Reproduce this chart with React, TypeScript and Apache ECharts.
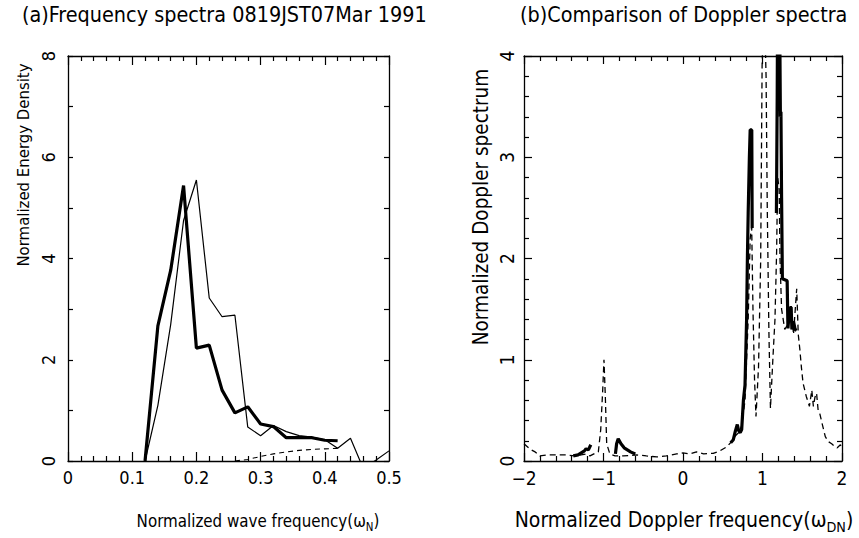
import React, { useEffect, useRef } from "react";
import * as echarts from "echarts";

// ---------- Panel (a): frequency spectra ----------
const waveTickLabels = ["0", "0.1", "0.2", "0.3", "0.4", "0.5"];
const thickFreq = [0.12, 0.14, 0.16, 0.18, 0.2, 0.22, 0.24, 0.26, 0.28, 0.3, 0.32, 0.34, 0.36, 0.38, 0.4, 0.42];
const thickEnergy = [0, 2.67, 3.77, 5.44, 2.23, 2.29, 1.4, 0.95, 1.07, 0.73, 0.68, 0.46, 0.46, 0.46, 0.41, 0.4];
const thinFreq = [0.12, 0.14, 0.16, 0.18, 0.2, 0.22, 0.24, 0.26, 0.28, 0.3, 0.32, 0.34, 0.36, 0.38, 0.4, 0.42, 0.44, 0.46, 0.48, 0.5];
const thinEnergy = [0, 1.1, 2.7, 4.75, 5.55, 3.22, 2.85, 2.88, 0.67, 0.5, 0.7, 0.58, 0.5, 0.47, 0.42, 0.25, 0.45, -0.15, 0.02, 0.2];
const dashFreq = [0.26, 0.28, 0.3, 0.32, 0.34, 0.36, 0.38, 0.4, 0.42];
const dashEnergy = [0, 0.03, 0.09, 0.14, 0.18, 0.21, 0.23, 0.24, 0.25];

// ---------- Panel (b): Doppler spectra ----------
const dopplerTickLabels = ["\u22122", "\u22121", "0", "1", "2"];
const dopplerTickValues = [-2, -1, 0, 1, 2];
const solidDopFreq = [
  -1.38, -1.32, -1.28, -1.24, -1.22, -1.19, -1.16, null,
  -0.85, -0.835, -0.815, -0.78, -0.74, -0.7, -0.66, -0.6, null,
  0.6, 0.633, 0.66, 0.683, 0.7, 0.72, 0.738, 0.76, 0.78, 0.8, 0.81, 0.82, 0.835, 0.845, 0.865, 0.87, null,
  1.175, 1.185, 1.19, 1.215, 1.225, 1.232, 1.24, 1.25, 1.31, 1.32, 1.34, 1.36, 1.37, 1.39, 1.41, 1.43,
];
const solidDopValue = [
  0.05, 0.06, 0.08, 0.1, 0.12, 0.11, 0.16, null,
  0.07, 0.17, 0.22, 0.17, 0.13, 0.11, 0.09, 0.07, null,
  0.18, 0.21, 0.3, 0.36, 0.3, 0.28, 0.31, 0.6, 0.75, 1.4, 2.0, 2.45, 3.0, 3.27, 3.27, 2.3, null,
  2.45, 3.6, 4.5, 4.5, 3.4, 3.45, 2.6, 1.8, 1.78, 1.31, 1.5, 1.52, 1.3, 1.38, 1.3, 1.29,
];
const dashDopFreq = [
  -2.0, -1.92, -1.86, -1.8, -1.71, -1.59, -1.46, -1.36, -1.28, -1.22, -1.17, -1.11, -1.065, -1.035, -1.01, -0.994,
  -0.977, -0.96, -0.92, -0.855, -0.75, -0.58, -0.46, -0.33, -0.21, -0.08, 0.0, 0.09, 0.17, 0.26, 0.38, 0.465,
  0.55, 0.61, 0.66, 0.7, 0.74, 0.78, 0.82, 0.845, 0.864, 0.88, 0.9, 0.918, 0.95, 0.977, 0.995, 1.02,
  1.045, 1.06, 1.08, 1.1, 1.13, 1.157, 1.178, 1.19, 1.21, 1.22, 1.24, 1.28, 1.32, 1.36, 1.39, 1.43,
  1.45, 1.47, 1.49, 1.51, 1.55, 1.59, 1.62, 1.64, 1.66, 1.68, 1.7, 1.72, 1.75, 1.79, 1.83, 1.87, 1.9, 1.94, 1.98, 2.0,
];
const dashDopValue = [
  0.17, 0.115, 0.09, 0.05, 0.06, 0.06, 0.06, 0.05, 0.06, 0.07, 0.05, 0.075, 0.09, 0.31, 0.7, 1.0,
  0.635, 0.17, 0.07, 0.05, 0.05, 0.06, 0.05, 0.04, 0.05, 0.07, 0.08, 0.07, 0.09, 0.07, 0.076, 0.1,
  0.14, 0.19, 0.25, 0.28, 0.35, 0.6, 1.4, 2.2, 2.31, 1.5, 0.8, 0.44, 0.93, 1.98, 3.9, 4.6,
  3.8, 2.5, 1.3, 0.52, 1.0, 1.4, 2.08, 2.81, 2.68, 2.0, 1.5, 1.3, 1.35, 1.55, 1.25, 1.7,
  1.25, 1.1, 0.92, 0.77, 0.64, 0.54, 0.7, 0.54, 0.63, 0.67, 0.5, 0.47, 0.37, 0.24, 0.19, 0.17, 0.15, 0.13, 0.16, 0.12,
];

const pairs = (xs: (number | null)[], ys: (number | null)[]) =>
  xs.map((x, i) => (x === null || ys[i] === null ? [null, null] : [x, ys[i]]));

const FONT = "'Liberation Sans Narrow', 'DejaVu Sans Condensed', 'Noto Sans', sans-serif";
const BLACK = "#000";

function axisPair(gridIndex: number, opts: any) {
  const common = {
    gridIndex,
    type: "value",
    min: opts.min,
    max: opts.max,
    interval: opts.interval,
    splitLine: { show: false },
    axisLine: { show: true, onZero: false, lineStyle: { color: BLACK, width: 1.3 } },
    axisTick: { show: true, inside: true, length: opts.majorLen, lineStyle: { color: BLACK, width: 1.2 } },
    minorTick: { show: true, splitNumber: opts.minorSplit, length: opts.minorLen, lineStyle: { color: BLACK, width: 1.2 } },
  };
  return [
    {
      ...common,
      position: opts.pos1,
      axisLabel: {
        show: true,
        color: BLACK,
        fontFamily: FONT,
        fontSize: opts.fontSize,
        margin: opts.margin,
        rotate: opts.rotate || 0,
        formatter: opts.formatter,
      },
    },
    { ...common, position: opts.pos2, axisLabel: { show: false } },
  ];
}

export default function App() {
  const ref = useRef<HTMLDivElement>(null);
  useEffect(() => {
    if (!ref.current) return;
    const chart = echarts.init(ref.current, null, { renderer: "svg" });
    const xAxes = [
      ...axisPair(0, {
        min: 0, max: 0.5, interval: 0.1, majorLen: 9, minorLen: 5, minorSplit: 5, margin: 7, fontSize: 18,
        pos1: "bottom", pos2: "top",
        formatter: (v: number) => waveTickLabels[Math.round(v * 10)] ?? "",
      }),
      ...axisPair(1, {
        min: -2, max: 2, interval: 1, majorLen: 8, minorLen: 5, minorSplit: 5, margin: 7, fontSize: 19,
        pos1: "bottom", pos2: "top",
        formatter: (v: number) => dopplerTickLabels[dopplerTickValues.indexOf(Math.round(v))] ?? "",
      }),
    ];
    const yAxes = [
      ...axisPair(0, {
        min: 0, max: 8, interval: 2, majorLen: 5, minorLen: 5, minorSplit: 2, margin: 11, rotate: 90, fontSize: 18,
        pos1: "left", pos2: "right",
        formatter: (v: number) => String(v),
      }),
      ...axisPair(1, {
        min: 0, max: 4, interval: 1, majorLen: 8, minorLen: 5, minorSplit: 5, margin: 8, rotate: 90, fontSize: 19,
        pos1: "left", pos2: "right",
        formatter: (v: number) => String(v),
      }),
    ];
    const text = (x: number, y: number, t: string, fs: number, extra: any = {}) => ({
      type: "text",
      x,
      y,
      ...extra,
      style: {
        text: t,
        fill: BLACK,
        fontFamily: FONT,
        fontSize: fs,
        textAlign: extra.align || "left",
        textVerticalAlign: "middle",
        ...(extra.style || {}),
      },
    });
    const subRich = (fs: number) => ({
      n: { fontFamily: FONT, fontSize: fs, lineHeight: fs * 1.35, verticalAlign: "middle", color: BLACK },
      s: { fontFamily: FONT, fontSize: fs * 0.68, lineHeight: fs * 1.35, verticalAlign: "bottom", color: BLACK },
    });
    chart.setOption({
      animation: false,
      backgroundColor: "#fff",
      grid: [
        { left: 68, top: 56, width: 321, height: 405, containLabel: false },
        { left: 524, top: 56, width: 318, height: 405, containLabel: false },
      ],
      xAxis: xAxes,
      yAxis: yAxes,
      graphic: [
        text(22, 14, "(a)Frequency spectra 0819JST07Mar 1991", 21.4),
        text(520, 14, "(b)Comparison of Doppler spectra", 21.4),
        text(23, 165, "Normalized Energy Density", 16.6, { align: "center", rotation: Math.PI / 2 }),
        text(481, 207, "Normalized Doppler spectrum", 20.5, { align: "center", rotation: Math.PI / 2 }),
        text(258, 521, "{n|Normalized wave frequency(ω}{s|N}{n|)}", 16.8, { align: "center", style: { rich: subRich(16.8) } }),
        text(684, 520, "{n|Normalized Doppler frequency(ω}{s|DN}{n|)}", 21, { align: "center", style: { rich: subRich(21) } }),
      ],
      series: [
        {
          type: "line", xAxisIndex: 0, yAxisIndex: 0, data: pairs(thinFreq, thinEnergy),
          symbol: "none", lineStyle: { color: BLACK, width: 1.2 }, clip: true,
        },
        {
          type: "line", xAxisIndex: 0, yAxisIndex: 0, data: pairs(dashFreq, dashEnergy),
          symbol: "none", lineStyle: { color: BLACK, width: 1.1, type: [5, 4] }, clip: true,
        },
        {
          type: "line", xAxisIndex: 0, yAxisIndex: 0, data: pairs(thickFreq, thickEnergy),
          symbol: "none", lineStyle: { color: BLACK, width: 3.2 }, clip: true,
        },
        {
          type: "line", xAxisIndex: 2, yAxisIndex: 2, data: pairs(dashDopFreq, dashDopValue),
          symbol: "none", lineStyle: { color: BLACK, width: 1.3, type: [6, 4] }, clip: true,
        },
        {
          type: "line", xAxisIndex: 2, yAxisIndex: 2, data: pairs(solidDopFreq, solidDopValue),
          symbol: "none", connectNulls: false, lineStyle: { color: BLACK, width: 3.2 }, clip: true,
        },
      ],
    });
    return () => chart.dispose();
  }, []);
  return <div ref={ref} style={{ width: 859, height: 538, position: "absolute", left: 0, top: 0 }} />;
}
